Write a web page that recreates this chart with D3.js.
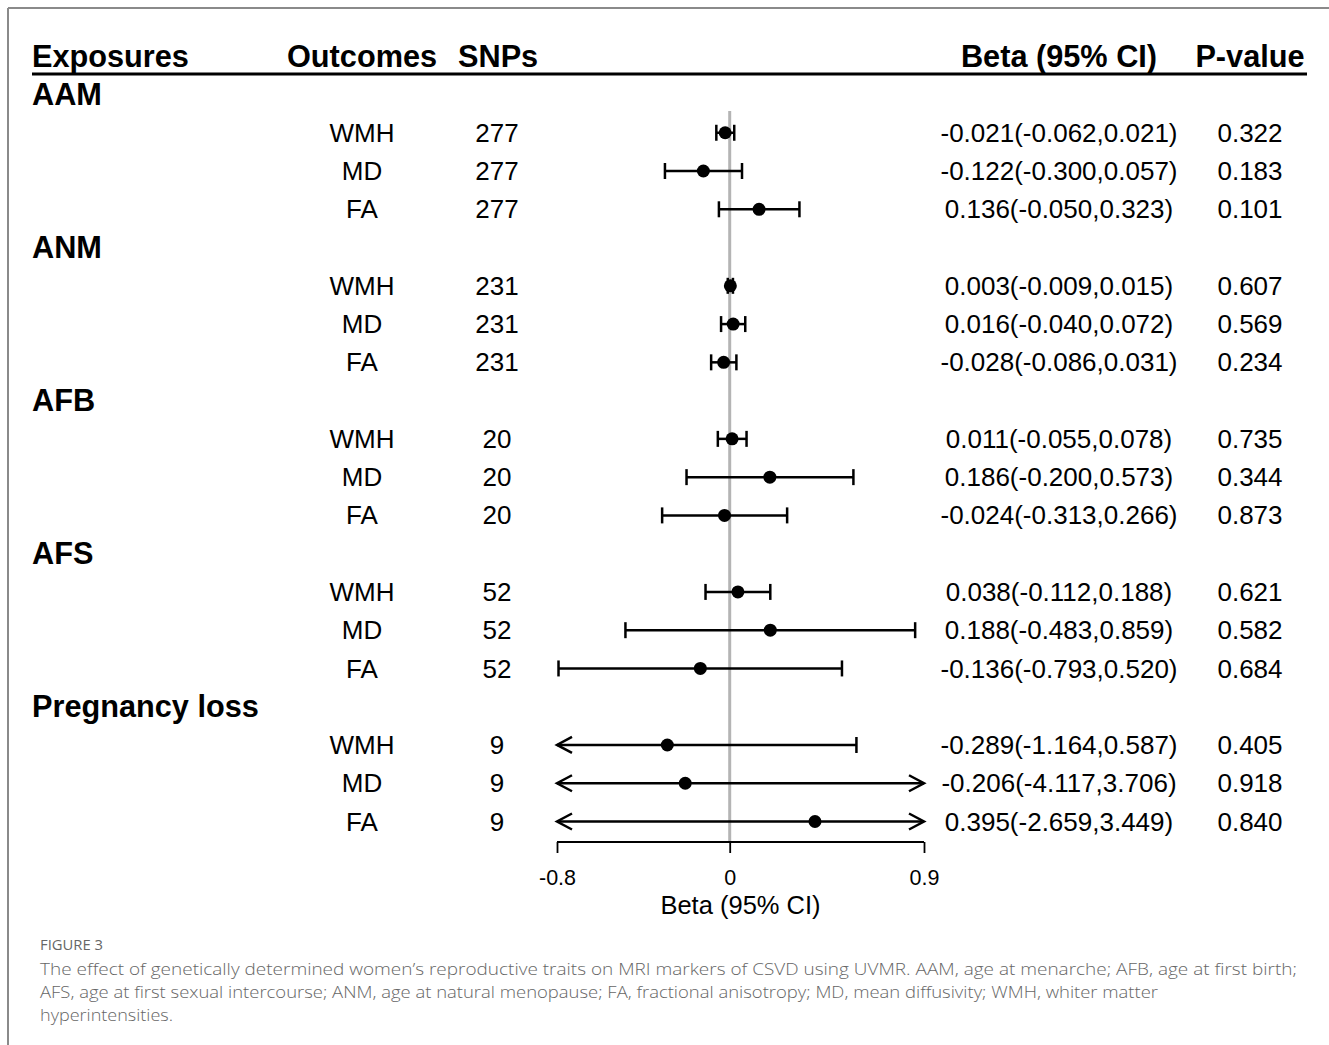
<!DOCTYPE html>
<html><head><meta charset="utf-8">
<script src="https://cdn.jsdelivr.net/npm/d3@7"></script>
<style>html,body{margin:0;padding:0;background:#fff;}</style>
</head><body>
<script>
const exposures = ["AAM","ANM","AFB","AFS","Pregnancy loss"];
const outcomes = ["WMH","MD","FA"];
const snps = [277,231,20,52,9];
const beta = [[-0.021,-0.122,0.136],[0.003,0.016,-0.028],[0.011,0.186,-0.024],[0.038,0.188,-0.136],[-0.289,-0.206,0.395]];
const lower = [[-0.062,-0.300,-0.050],[-0.009,-0.040,-0.086],[-0.055,-0.200,-0.313],[-0.112,-0.483,-0.793],[-1.164,-4.117,-2.659]];
const upper = [[0.021,0.057,0.323],[0.015,0.072,0.031],[0.078,0.573,0.266],[0.188,0.859,0.520],[0.587,3.706,3.449]];
const pvals = [["0.322","0.183","0.101"],["0.607","0.569","0.234"],["0.735","0.344","0.873"],["0.621","0.582","0.684"],["0.405","0.918","0.840"]];
const xTicks = [-0.8,0,0.9];
const headers = ["Exposures","Outcomes","SNPs","Beta (95% CI)","P-value"];
const captionTitle = "FIGURE 3";
const captionLines = ["The effect of genetically determined women\u2019s reproductive traits on MRI markers of CSVD using UVMR. AAM, age at menarche; AFB, age at first birth;",
"AFS, age at first sexual intercourse; ANM, age at natural menopause; FA, fractional anisotropy; MD, mean diffusivity; WMH, whiter matter",
"hyperintensities."];

const W=1329,H=1045;
const svg=d3.select("body").append("svg").attr("width",W).attr("height",H);
const font="Liberation Sans, Arial, sans-serif";
// border
svg.append("line").attr("x1",8).attr("x2",W).attr("y1",8).attr("y2",8).attr("stroke","#8a8a8a").attr("stroke-width",2);
svg.append("line").attr("x1",8).attr("x2",8).attr("y1",8).attr("y2",H).attr("stroke","#8a8a8a").attr("stroke-width",2);

const x=d3.scaleLinear().domain([-0.8,0.9]).range([557,924]);
const rowY=d3.scaleLinear().domain([0,19]).range([94.5,821.5]);

// header
const hx=[{t:headers[0],x:32,a:"start"},{t:headers[1],x:287,a:"start"},{t:headers[2],x:458,a:"start"},{t:headers[3],x:1059,a:"middle"},{t:headers[4],x:1250,a:"middle"}];
svg.selectAll("text.h").data(hx).enter().append("text").attr("x",d=>d.x).attr("y",56).attr("dy","0.35em")
 .attr("text-anchor",d=>d.a).attr("font-family",font).attr("font-weight","bold").attr("font-size",30.7).text(d=>d.t);
svg.append("line").attr("x1",32).attr("x2",1307).attr("y1",74).attr("y2",74).attr("stroke","#000").attr("stroke-width",3);

// reference line
svg.append("line").attr("x1",x(0)).attr("x2",x(0)).attr("y1",111).attr("y2",842).attr("stroke","#b4b4b4").attr("stroke-width",3);

const fmt=v=>v.toFixed(3);
exposures.forEach((e,i)=>{
  const gy=rowY(i*4);
  svg.append("text").attr("x",32).attr("y",gy).attr("dy","0.35em").attr("font-family",font).attr("font-weight","bold").attr("font-size",30.7).text(e);
  outcomes.forEach((o,j)=>{
    const y=rowY(i*4+j+1);
    const txt=(t,xx)=>svg.append("text").attr("x",xx).attr("y",y).attr("dy","0.35em").attr("text-anchor","middle").attr("font-family",font).attr("font-size",26).text(t);
    txt(o,362); txt(String(snps[i]),497);
    txt(fmt(beta[i][j])+"("+fmt(lower[i][j])+","+fmt(upper[i][j])+")",1059);
    txt(pvals[i][j],1250);
    const lo=lower[i][j],hi=upper[i][j];
    const xl=x(Math.max(lo,-0.8)), xh=x(Math.min(hi,0.9));
    svg.append("line").attr("x1",xl).attr("x2",xh).attr("y1",y).attr("y2",y).attr("stroke","#000").attr("stroke-width",2.5);
    if(lo<-0.8){
      svg.append("path").attr("d",`M${xl+15},${y-8}L${xl},${y}L${xl+15},${y+8}`).attr("fill","none").attr("stroke","#000").attr("stroke-width",2.5);
    } else {
      svg.append("line").attr("x1",xl).attr("x2",xl).attr("y1",y-8).attr("y2",y+8).attr("stroke","#000").attr("stroke-width",2.5);
    }
    if(hi>0.9){
      svg.append("path").attr("d",`M${xh-15},${y-8}L${xh},${y}L${xh-15},${y+8}`).attr("fill","none").attr("stroke","#000").attr("stroke-width",2.5);
    } else {
      svg.append("line").attr("x1",xh).attr("x2",xh).attr("y1",y-8).attr("y2",y+8).attr("stroke","#000").attr("stroke-width",2.5);
    }
    svg.append("circle").attr("cx",x(beta[i][j])).attr("cy",y).attr("r",6.5).attr("fill","#000");
  });
});

// axis
const ax=svg.append("g").attr("transform","translate(0,842)")
 .call(d3.axisBottom(x).tickValues(xTicks).tickSize(11).tickPadding(17).tickFormat(d=>d===0?"0":String(d)));
ax.select(".domain").attr("stroke-width",1.8).attr("d",`M${x(-0.8)},0H${x(0.9)}`);
ax.selectAll(".tick line").attr("stroke-width",1.8).attr("y1",0).attr("y2",11);
ax.selectAll(".tick text").attr("font-family",font).attr("font-size",21.5).attr("fill","#000");
svg.append("text").attr("x",(x(-0.8)+x(0.9))/2).attr("y",905).attr("dy","0.35em").attr("text-anchor","middle").attr("font-family",font).attr("font-size",25.5).text("Beta (95% CI)");

// caption
svg.append("text").attr("x",40).attr("y",945).attr("dy","0.35em").attr("font-family","Open Sans, sans-serif").attr("font-size",14).attr("fill","#666")
 .attr("textLength",63).attr("lengthAdjust","spacingAndGlyphs").text(captionTitle);
const cw=[1257,1118,133];
captionLines.forEach((t,k)=>{
  const el=svg.append("text").attr("x",40).attr("y",969+k*23).attr("dy","0.35em").attr("font-family","Open Sans, sans-serif").attr("font-weight",300).attr("font-size",17).attr("fill","#666").text(t);
  el.attr("textLength",cw[k]).attr("lengthAdjust","spacingAndGlyphs");
});
</script>
</body></html>
